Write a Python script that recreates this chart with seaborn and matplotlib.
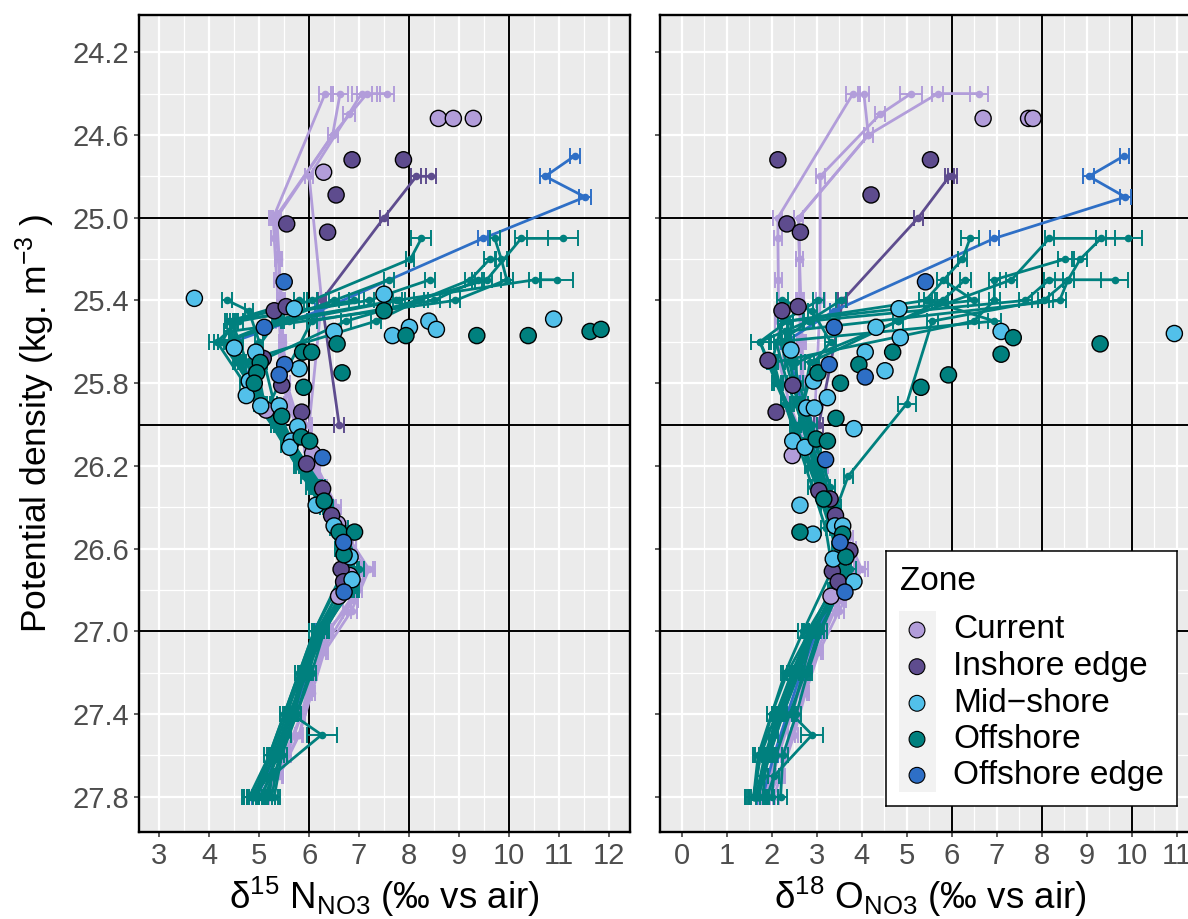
import matplotlib
matplotlib.use("Agg")
import matplotlib.pyplot as plt
from matplotlib.ticker import FixedLocator, FormatStrFormatter
from matplotlib.patches import Rectangle
import pandas as pd
import seaborn as sns

ZONES = ["Current", "Inshore edge", "Mid\u2212shore", "Offshore", "Offshore edge"]
ZONE_COLORS = ["#B29DDA", "#5E4C8E", "#52C0EA", "#00807E", "#2E6FC6"]

# ---------------- nitrate isotope profiles (one inner list per cast) ----------------
current_sigma = [
    [24.40, 25.00, 25.10, 25.30, 25.50, 25.70, 25.90, 26.10, 26.30, 26.50, 26.70, 26.90, 27.10, 27.30, 27.50, 27.70, 27.80],
    [24.40, 24.60, 25.00, 25.20, 25.40, 25.60, 25.80, 26.00, 26.20, 26.40, 26.60, 26.70, 26.85, 27.00, 27.20, 27.40, 27.60, 27.80],
    [24.40, 24.50, 24.80, 25.40, 26.00, 26.20, 26.40, 26.60, 26.80, 27.00, 27.20, 27.40, 27.60, 27.80],
    [24.40, 24.40, 24.60, 25.00, 25.20, 25.40, 25.60, 25.80, 26.00, 26.20, 26.40, 26.55, 26.70, 26.90, 27.10, 27.30, 27.50, 27.70, 27.80],
]
current_d15n = [
    [6.32, 5.28, 5.30, 5.35, 5.40, 5.45, 5.55, 5.95, 6.30, 6.65, 7.00, 6.75, 6.25, 6.00, 5.80, 5.40, 5.05],
    [6.62, 6.47, 5.32, 5.38, 5.45, 5.48, 5.55, 5.80, 6.10, 6.45, 6.85, 7.15, 6.90, 6.35, 6.05, 5.85, 5.55, 5.10],
    [7.05, 6.79, 6.00, 6.25, 6.00, 6.15, 6.55, 6.85, 6.95, 6.40, 6.10, 5.85, 5.50, 5.15],
    [7.56, 7.16, 6.47, 5.35, 5.40, 5.42, 5.45, 5.50, 5.75, 6.05, 6.45, 6.80, 7.20, 6.85, 6.30, 6.05, 5.80, 5.35, 5.20],
]
current_d15n_sd = [
    [0.12, 0.08, 0.06, 0.06, 0.06, 0.06, 0.06, 0.06, 0.06, 0.08, 0.10, 0.08, 0.08, 0.06, 0.06, 0.08, 0.10],
    [0.15, 0.10, 0.08, 0.06, 0.06, 0.06, 0.06, 0.06, 0.06, 0.08, 0.08, 0.12, 0.08, 0.08, 0.06, 0.06, 0.08, 0.10],
    [0.20, 0.12, 0.08, 0.08, 0.06, 0.06, 0.08, 0.08, 0.10, 0.08, 0.06, 0.06, 0.08, 0.10],
    [0.15, 0.20, 0.10, 0.08, 0.06, 0.06, 0.06, 0.06, 0.06, 0.06, 0.08, 0.08, 0.12, 0.10, 0.08, 0.06, 0.08, 0.10, 0.12],
]
current_d18o = [
    [3.81, 2.14, 2.14, 2.15, 2.15, 2.17, 2.40, 2.75, 3.10, 3.45, 3.75, 3.40, 3.00, 2.70, 2.45, 2.15, 1.95],
    [4.05, 4.15, 2.60, 2.62, 2.62, 2.64, 2.66, 2.75, 3.05, 3.35, 3.70, 3.95, 3.55, 3.10, 2.75, 2.45, 2.15, 1.90],
    [5.10, 4.41, 3.08, 3.08, 2.95, 3.15, 3.45, 3.75, 3.55, 3.05, 2.70, 2.40, 2.10, 1.85],
    [6.60, 5.69, 4.15, 2.60, 2.62, 2.65, 2.68, 2.70, 2.90, 3.15, 3.40, 3.70, 4.00, 3.50, 3.05, 2.75, 2.50, 2.20, 2.05],
]
current_d18o_sd = [
    [0.15, 0.10, 0.08, 0.08, 0.08, 0.08, 0.08, 0.08, 0.10, 0.10, 0.12, 0.10, 0.10, 0.08, 0.08, 0.10, 0.12],
    [0.12, 0.10, 0.10, 0.08, 0.08, 0.08, 0.08, 0.08, 0.10, 0.10, 0.10, 0.12, 0.10, 0.10, 0.08, 0.08, 0.10, 0.12],
    [0.25, 0.12, 0.10, 0.10, 0.08, 0.10, 0.10, 0.12, 0.10, 0.10, 0.08, 0.08, 0.10, 0.12],
    [0.20, 0.12, 0.10, 0.10, 0.08, 0.08, 0.08, 0.08, 0.08, 0.10, 0.10, 0.10, 0.15, 0.10, 0.10, 0.08, 0.08, 0.10, 0.12],
]

inshore_sigma = [[24.80, 24.80, 25.00, 25.40, 26.00]]
inshore_d15n = [[8.45, 8.15, 7.50, 6.25, 6.60]]
inshore_d15n_sd = [[0.10, 0.10, 0.08, 0.08, 0.10]]
inshore_d18o = [[6.01, 5.95, 5.26, 3.58, 3.05]]
inshore_d18o_sd = [[0.10, 0.10, 0.10, 0.10, 0.10]]

edge_sigma = [[24.70, 24.80, 24.90, 25.10, 25.45, 25.60, 25.80, 26.00, 26.20, 26.40, 26.60, 26.80, 27.00, 27.20, 27.40, 27.60, 27.80]]
edge_d15n = [[11.33, 10.73, 11.53, 9.49, 6.20, 4.48, 4.85, 5.45, 5.95, 6.35, 6.65, 6.75, 6.20, 5.95, 5.70, 5.35, 4.95]]
edge_d15n_sd = [[0.10, 0.10, 0.12, 0.10, 0.08, 0.08, 0.06, 0.06, 0.06, 0.08, 0.08, 0.08, 0.08, 0.08, 0.08, 0.08, 0.10]]
edge_d18o = [[9.84, 9.05, 9.86, 6.95, 3.39, 2.31, 2.55, 2.80, 3.05, 3.30, 3.55, 3.50, 3.00, 2.65, 2.35, 2.05, 1.80]]
edge_d18o_sd = [[0.10, 0.12, 0.12, 0.10, 0.10, 0.10, 0.08, 0.08, 0.08, 0.08, 0.08, 0.08, 0.10, 0.10, 0.10, 0.10, 0.12]]

offshore_sigma = [
    [25.10, 25.10, 25.30, 25.50, 25.70, 25.90, 26.10, 26.30, 26.50, 26.70, 27.00, 27.20, 27.40, 27.60, 27.80],
    [25.10, 25.20, 25.40, 25.50, 25.60, 25.80, 26.00, 26.20, 26.40, 26.60, 26.80, 27.00, 27.20, 27.40, 27.50, 27.70, 27.80],
    [25.10, 25.20, 25.30, 25.40, 25.55, 25.70, 25.90, 26.10, 26.30, 26.50, 26.70, 27.00, 27.20, 27.40, 27.60, 27.80],
    [25.30, 25.30, 25.40, 25.50, 25.60, 25.80, 26.00, 26.20, 26.40, 26.60, 26.80, 27.00, 27.20, 27.40, 27.60, 27.80],
    [25.30, 25.40, 25.50, 25.90, 26.25, 26.40, 26.60, 26.80, 27.00, 27.20, 27.40, 27.50, 27.70, 27.80],
    [25.20, 25.30, 25.40, 25.50, 25.70, 25.90, 26.10, 26.30, 26.50, 26.70, 27.00, 27.20, 27.40, 27.60, 27.80],
    [25.30, 25.40, 25.50, 25.60, 25.80, 26.00, 26.20, 26.40, 26.60, 26.80, 27.00, 27.20, 27.40, 27.60, 27.80],
    [25.40, 25.45, 25.60, 25.70, 25.90, 26.10, 26.30, 26.50, 26.70, 27.00, 27.20, 27.40, 27.60, 27.80],
    [25.30, 25.40, 25.50, 25.70, 25.90, 26.10, 26.30, 26.50, 26.70, 27.00, 27.20, 27.40, 27.60, 27.80],
    [25.40, 25.50, 25.60, 25.80, 26.00, 26.20, 26.40, 26.60, 26.80, 27.00, 27.20, 27.40, 27.60, 27.80],
    [25.40, 25.50, 25.70, 25.90, 26.10, 26.30, 26.50, 26.70, 27.00, 27.20, 27.40, 27.60, 27.80],
    [25.40, 25.50, 25.60, 25.80, 26.00, 26.20, 26.40, 26.60, 26.80, 27.00, 27.20, 27.40, 27.60, 27.80],
]
offshore_d15n = [
    [11.08, 10.25, 9.56, 6.74, 4.95, 5.10, 5.55, 6.05, 6.60, 6.80, 6.20, 5.90, 5.65, 5.35, 5.05],
    [8.25, 8.03, 6.05, 4.50, 4.25, 4.80, 5.30, 5.75, 6.30, 6.60, 6.90, 6.15, 5.90, 5.70, 5.55, 5.20, 4.85],
    [9.72, 9.85, 9.96, 8.93, 4.40, 4.65, 5.00, 5.60, 6.15, 6.60, 6.90, 6.25, 5.95, 5.60, 5.30, 5.20],
    [10.96, 10.53, 7.74, 5.35, 4.30, 4.85, 5.40, 5.90, 6.40, 6.70, 6.80, 6.30, 5.95, 5.60, 5.30, 4.90],
    [9.39, 8.50, 6.05, 5.20, 5.90, 6.30, 6.65, 6.85, 6.10, 5.85, 5.65, 6.25, 5.25, 5.00],
    [9.62, 9.23, 8.20, 7.34, 4.60, 4.95, 5.55, 6.10, 6.50, 6.75, 6.10, 5.80, 5.50, 5.20, 4.80],
    [8.42, 7.20, 4.45, 4.60, 4.90, 5.40, 5.85, 6.35, 6.65, 6.75, 6.20, 6.00, 5.75, 5.45, 5.10],
    [4.36, 4.79, 5.00, 5.10, 5.30, 5.70, 6.20, 6.55, 6.85, 6.15, 5.85, 5.55, 5.25, 4.85],
    [7.60, 6.50, 5.35, 4.75, 5.15, 5.70, 6.25, 6.70, 7.00, 6.30, 6.05, 5.75, 5.40, 5.25],
    [6.90, 4.60, 4.15, 4.70, 5.30, 5.80, 6.30, 6.60, 6.70, 6.20, 5.90, 5.70, 5.45, 5.30],
    [5.80, 4.40, 4.55, 5.00, 5.50, 6.00, 6.50, 6.70, 6.10, 5.80, 5.50, 5.20, 4.90],
    [7.80, 5.60, 4.30, 4.85, 5.35, 5.85, 6.40, 6.70, 6.85, 6.25, 5.95, 5.65, 5.30, 4.95],
]
offshore_d15n_sd = [
    [0.30, 0.12, 0.10, 0.10, 0.08, 0.06, 0.06, 0.06, 0.08, 0.08, 0.10, 0.08, 0.08, 0.08, 0.12],
    [0.20, 0.08, 0.10, 0.08, 0.15, 0.08, 0.06, 0.06, 0.08, 0.08, 0.10, 0.10, 0.08, 0.08, 0.08, 0.10, 0.15],
    [0.10, 0.12, 0.12, 0.10, 0.10, 0.08, 0.06, 0.06, 0.08, 0.08, 0.10, 0.10, 0.08, 0.08, 0.08, 0.12],
    [0.33, 0.12, 0.12, 0.10, 0.12, 0.08, 0.06, 0.06, 0.08, 0.08, 0.10, 0.10, 0.08, 0.08, 0.10, 0.15],
    [0.12, 0.12, 0.10, 0.08, 0.06, 0.08, 0.08, 0.10, 0.10, 0.08, 0.08, 0.30, 0.10, 0.12],
    [0.12, 0.10, 0.10, 0.10, 0.08, 0.06, 0.06, 0.06, 0.08, 0.08, 0.10, 0.08, 0.08, 0.10, 0.15],
    [0.10, 0.10, 0.10, 0.08, 0.06, 0.06, 0.06, 0.08, 0.08, 0.10, 0.10, 0.08, 0.08, 0.10, 0.15],
    [0.10, 0.08, 0.08, 0.06, 0.06, 0.06, 0.06, 0.08, 0.10, 0.10, 0.08, 0.08, 0.10, 0.15],
    [0.10, 0.10, 0.08, 0.08, 0.06, 0.06, 0.06, 0.08, 0.10, 0.10, 0.08, 0.08, 0.10, 0.12],
    [0.10, 0.08, 0.15, 0.08, 0.06, 0.06, 0.08, 0.08, 0.10, 0.10, 0.08, 0.08, 0.10, 0.12],
    [0.10, 0.08, 0.08, 0.06, 0.06, 0.06, 0.08, 0.08, 0.10, 0.08, 0.08, 0.10, 0.15],
    [0.12, 0.10, 0.12, 0.08, 0.06, 0.06, 0.08, 0.08, 0.10, 0.10, 0.08, 0.08, 0.10, 0.15],
]
offshore_d18o = [
    [9.93, 8.17, 7.33, 4.81, 2.55, 2.55, 2.80, 3.10, 3.40, 3.60, 2.95, 2.55, 2.20, 1.90, 1.70],
    [6.41, 6.24, 5.42, 2.36, 1.74, 2.15, 2.55, 2.85, 3.20, 3.50, 3.60, 2.85, 2.45, 2.15, 2.05, 1.80, 1.60],
    [9.32, 8.86, 8.59, 8.40, 2.30, 2.40, 2.60, 2.90, 3.20, 3.40, 3.65, 2.90, 2.45, 2.10, 1.90, 1.80],
    [9.63, 8.17, 7.64, 2.82, 2.20, 2.45, 2.75, 3.00, 3.35, 3.60, 3.40, 2.95, 2.60, 2.25, 1.95, 1.70],
    [8.59, 8.05, 5.57, 5.00, 3.70, 3.45, 3.55, 3.45, 2.90, 2.70, 2.45, 2.90, 2.05, 1.90],
    [8.52, 6.95, 6.95, 6.49, 2.05, 2.30, 2.65, 3.00, 3.30, 3.55, 2.85, 2.35, 2.00, 1.75, 1.60],
    [5.80, 6.49, 2.36, 2.40, 2.60, 2.90, 3.10, 3.35, 3.60, 3.35, 2.80, 2.50, 2.15, 1.85, 1.65],
    [2.24, 2.90, 3.31, 2.95, 2.70, 2.90, 3.20, 3.45, 3.65, 2.95, 2.50, 2.10, 1.75, 1.60],
    [6.30, 5.80, 4.81, 2.85, 2.70, 3.00, 3.30, 3.50, 3.75, 3.05, 2.75, 2.40, 2.10, 2.00],
    [3.54, 2.82, 1.74, 2.10, 2.50, 2.90, 3.20, 3.45, 3.50, 3.10, 2.80, 2.55, 2.25, 2.20],
    [3.04, 2.25, 2.00, 2.30, 2.60, 2.90, 3.20, 3.35, 2.70, 2.30, 2.00, 1.70, 1.60],
    [5.50, 6.95, 2.10, 2.35, 2.70, 3.00, 3.30, 3.60, 3.40, 2.95, 2.60, 2.25, 1.95, 1.70],
]
offshore_d18o_sd = [
    [0.30, 0.10, 0.12, 0.12, 0.10, 0.10, 0.10, 0.10, 0.10, 0.12, 0.12, 0.10, 0.10, 0.12, 0.15],
    [0.20, 0.10, 0.15, 0.12, 0.20, 0.10, 0.10, 0.10, 0.10, 0.10, 0.12, 0.15, 0.10, 0.10, 0.10, 0.12, 0.20],
    [0.12, 0.15, 0.12, 0.15, 0.12, 0.10, 0.10, 0.10, 0.10, 0.10, 0.12, 0.12, 0.10, 0.10, 0.12, 0.15],
    [0.30, 0.12, 0.15, 0.12, 0.15, 0.10, 0.10, 0.10, 0.10, 0.10, 0.10, 0.12, 0.10, 0.10, 0.12, 0.20],
    [0.12, 0.12, 0.12, 0.20, 0.10, 0.10, 0.10, 0.10, 0.12, 0.10, 0.10, 0.25, 0.12, 0.15],
    [0.15, 0.12, 0.12, 0.12, 0.10, 0.10, 0.10, 0.10, 0.10, 0.10, 0.12, 0.10, 0.10, 0.12, 0.20],
    [0.12, 0.12, 0.12, 0.10, 0.10, 0.10, 0.10, 0.10, 0.10, 0.10, 0.12, 0.10, 0.10, 0.12, 0.20],
    [0.12, 0.10, 0.12, 0.10, 0.10, 0.10, 0.10, 0.10, 0.12, 0.12, 0.10, 0.10, 0.12, 0.20],
    [0.12, 0.12, 0.12, 0.10, 0.10, 0.10, 0.10, 0.10, 0.12, 0.12, 0.10, 0.10, 0.12, 0.15],
    [0.12, 0.10, 0.20, 0.10, 0.10, 0.10, 0.10, 0.10, 0.10, 0.12, 0.10, 0.10, 0.12, 0.15],
    [0.12, 0.10, 0.10, 0.10, 0.10, 0.10, 0.10, 0.10, 0.12, 0.10, 0.10, 0.12, 0.20],
    [0.12, 0.15, 0.12, 0.10, 0.10, 0.10, 0.10, 0.10, 0.10, 0.12, 0.10, 0.10, 0.12, 0.20],
]

# ---------------- discrete samples (large circles) ----------------
disc_n_zone = (["Current"] * 9 + ["Inshore edge"] * 15 + ["Mid\u2212shore"] * 23
               + ["Offshore"] * 21 + ["Offshore edge"] * 7)
disc_n_sigma = [24.52, 24.52, 24.52, 24.78, 25.93, 26.14, 26.48, 26.73, 26.83,
                24.72, 24.72, 24.89, 25.03, 25.07, 25.45, 25.43, 25.68, 25.81, 25.94, 26.19, 26.31, 26.44, 26.70, 26.76,
                25.39, 25.37, 25.44, 25.55, 25.53, 25.57, 25.50, 25.54, 25.49, 25.63, 25.65, 25.79, 25.73, 25.86,
                25.91, 25.91, 26.01, 26.08, 26.11, 26.39, 26.49, 26.64, 26.75,
                25.45, 25.61, 25.57, 25.57, 25.57, 25.55, 25.54, 25.70, 25.75, 25.80, 25.65, 25.65, 25.82, 25.75,
                25.96, 26.06, 26.08, 26.37, 26.52, 26.52, 26.63,
                25.31, 25.53, 25.71, 25.76, 26.16, 26.57, 26.81]
disc_n_d15n = [8.59, 8.89, 9.29, 6.29, 5.14, 6.07, 6.57, 6.81, 6.59,
               6.86, 7.89, 6.54, 5.55, 6.37, 5.30, 5.54, 5.08, 5.45, 5.85, 5.95, 6.27, 6.45, 6.64, 6.69,
               3.70, 7.50, 5.70, 6.50, 8.01, 7.67, 8.40, 8.55, 10.90, 4.50, 4.93, 4.80, 5.80, 4.74,
               5.03, 5.40, 5.77, 5.65, 5.61, 6.14, 6.50, 6.82, 6.86,
               7.50, 6.56, 7.94, 9.36, 10.39, 11.63, 11.85, 5.02, 4.95, 4.90, 5.87, 6.05, 5.89, 6.66,
               5.45, 5.84, 6.01, 6.30, 6.60, 6.91, 6.70,
               5.50, 5.10, 5.51, 5.40, 6.27, 6.69, 6.70]

disc_o_zone = (["Current"] * 5 + ["Inshore edge"] * 16 + ["Mid\u2212shore"] * 21
               + ["Offshore"] * 16 + ["Offshore edge"] * 7)
disc_o_sigma = [24.52, 24.52, 24.52, 26.15, 26.83,
                24.72, 24.72, 24.89, 25.03, 25.07, 25.45, 25.43, 25.69, 25.81, 25.94, 26.32, 26.36, 26.44, 26.61,
                26.71, 26.76,
                25.44, 25.53, 25.58, 25.55, 25.56, 25.64, 25.65, 25.74, 25.79, 25.87, 25.92, 25.92, 26.02, 26.08,
                26.11, 26.39, 26.49, 26.49, 26.53, 26.65, 26.76,
                25.58, 25.66, 25.61, 25.65, 25.71, 25.75, 25.80, 25.82, 25.76, 25.97, 26.07, 26.08, 26.36, 26.52,
                26.53, 26.64,
                25.31, 25.53, 25.77, 25.71, 26.17, 26.57, 26.81]
disc_o_d18o = [6.70, 7.71, 7.81, 2.46, 3.32,
               2.14, 5.53, 4.21, 2.34, 2.64, 2.23, 2.59, 1.92, 2.47, 2.10, 3.05, 3.30, 3.42, 3.74, 3.35, 3.48,
               4.83, 4.32, 4.86, 7.10, 10.95, 2.43, 4.08, 4.52, 2.93, 3.24, 2.78, 2.95, 3.83, 2.47, 2.74, 2.63,
               3.41, 3.58, 2.92, 3.37, 3.83,
               7.37, 7.10, 9.30, 4.69, 3.94, 3.03, 3.53, 5.32, 5.93, 3.43, 2.99, 3.24, 3.16, 2.63, 3.58, 3.65,
               5.42, 3.39, 4.08, 3.28, 3.20, 3.52, 3.63]

# ---------------- axis settings ----------------
Y_TICKS = [24.2, 24.6, 25.0, 25.4, 25.8, 26.2, 26.6, 27.0, 27.4, 27.8]
Y_MINOR = [24.4, 24.8, 25.2, 25.6, 26.0, 26.4, 26.8, 27.2, 27.6]
N_TICKS = [3, 4, 5, 6, 7, 8, 9, 10, 11, 12]
O_TICKS = [0, 1, 2, 3, 4, 5, 6, 7, 8, 9, 10, 11]
REF_X = [6, 8, 10]
REF_Y = [25.0, 26.0, 27.0]


def casts_frame(zone, sigma, d15n, d15n_sd, d18o, d18o_sd):
    parts = []
    for k, cols in enumerate(zip(sigma, d15n, d15n_sd, d18o, d18o_sd)):
        s, n, nsd, o, osd = cols
        parts.append(pd.DataFrame({"zone": zone, "cast": f"{zone} {k + 1}", "sigma": s,
                                   "d15n": n, "d15n_sd": nsd, "d18o": o, "d18o_sd": osd}))
    return pd.concat(parts, ignore_index=True)


profiles = {
    "Current": casts_frame("Current", current_sigma, current_d15n, current_d15n_sd,
                           current_d18o, current_d18o_sd),
    "Inshore edge": casts_frame("Inshore edge", inshore_sigma, inshore_d15n, inshore_d15n_sd,
                                inshore_d18o, inshore_d18o_sd),
    "Offshore edge": casts_frame("Offshore edge", edge_sigma, edge_d15n, edge_d15n_sd,
                                 edge_d18o, edge_d18o_sd),
    "Offshore": casts_frame("Offshore", offshore_sigma, offshore_d15n, offshore_d15n_sd,
                            offshore_d18o, offshore_d18o_sd),
}
disc_n = pd.DataFrame({"zone": disc_n_zone, "sigma": disc_n_sigma, "value": disc_n_d15n})
disc_o = pd.DataFrame({"zone": disc_o_zone, "sigma": disc_o_sigma, "value": disc_o_d18o})

palette = dict(zip(ZONES, ZONE_COLORS))

sns.set_theme(style="darkgrid")
plt.rcParams["font.family"] = ["Liberation Sans", "DejaVu Sans"]
plt.rcParams["mathtext.default"] = "regular"

W, H = 1188, 919
fig = plt.figure(figsize=(W / 100, H / 100), dpi=100)
fig.patch.set_facecolor("white")
ax_n = fig.add_axes([139 / W, 1 - 832 / H, (629.5 - 139) / W, 817 / H])
ax_o = fig.add_axes([660 / W, 1 - 832 / H, 540 / W, 817 / H])


def draw_panel(ax, var, disc, xlim, xticks, xlabel):
    ax.set_facecolor("#EBEBEB")
    for i, zone in enumerate(["Current", "Inshore edge", "Offshore edge", "Offshore"]):
        sub = profiles[zone]
        col = palette[zone]
        z = 3 + i * 0.2
        sns.lineplot(data=sub, x=var, y="sigma", units="cast", estimator=None, sort=False,
                     color=col, linewidth=2.0, ax=ax, legend=False, zorder=z)
        ax.errorbar(sub[var], sub["sigma"], xerr=sub[var + "_sd"], fmt="none", ecolor=col,
                    elinewidth=1.4, capsize=6, capthick=1.4, zorder=z)
        sns.scatterplot(data=sub, x=var, y="sigma", color=col, s=30, linewidth=0,
                        ax=ax, legend=False, zorder=z + 0.05)
    sns.scatterplot(data=disc, x="value", y="sigma", hue="zone", hue_order=ZONES, palette=palette,
                    s=135, edgecolor="black", linewidth=1.0, ax=ax, legend=False, zorder=10)

    for xv in REF_X:
        ax.axvline(xv, color="black", linewidth=1.4, zorder=1.5)
    for yv in REF_Y:
        ax.axhline(yv, color="black", linewidth=1.4, zorder=1.5)

    ax.set_xlim(*xlim)
    ax.set_ylim(27.97, 24.02)
    ax.xaxis.set_major_locator(FixedLocator(xticks))
    ax.xaxis.set_minor_locator(FixedLocator([t + 0.5 for t in xticks]))
    ax.yaxis.set_major_locator(FixedLocator(Y_TICKS))
    ax.yaxis.set_minor_locator(FixedLocator(Y_MINOR))
    ax.yaxis.set_major_formatter(FormatStrFormatter("%.1f"))
    ax.set_axisbelow(True)
    ax.grid(which="major", color="white", linewidth=1.6)
    ax.grid(which="minor", color="white", linewidth=0.9)
    ax.tick_params(which="major", bottom=True, left=True, direction="out", length=3.8, width=1.1,
                   color="#333333", labelcolor="#4D4D4D", labelsize=21, pad=3.5)
    ax.tick_params(which="minor", length=0)
    for sp in ax.spines.values():
        sp.set_visible(True)
        sp.set_color("black")
        sp.set_linewidth(1.7)
    ax.set_xlabel(xlabel, fontsize=26.5, color="black")
    ax.xaxis.set_label_coords(0.5, -0.052)
    ax.xaxis.label.set_verticalalignment("top")
    ax.set_ylabel("")


draw_panel(ax_n, "d15n", disc_n, (2.59, 12.42), N_TICKS, "\u03b4$^{15}$ N$_{NO3}$ (\u2030 vs air)")
draw_panel(ax_o, "d18o", disc_o, (-0.48, 11.52), O_TICKS, "\u03b4$^{18}$ O$_{NO3}$ (\u2030 vs air)")

ax_n.set_ylabel("Potential density (kg. m$^{-3}$ )", fontsize=25.5, color="black")
ax_n.yaxis.set_label_coords(-0.167, 0.5)
ax_o.tick_params(axis="y", labelleft=False)

# legend panel
lx0, ly0, lx1, ly1 = 886, 551, 1177, 806
leg = fig.add_axes([lx0 / W, 1 - ly1 / H, (lx1 - lx0) / W, (ly1 - ly0) / H])
leg.set_xlim(0, lx1 - lx0)
leg.set_ylim(ly1 - ly0, 0)
leg.set_facecolor("white")
leg.grid(False)
leg.set_xticks([])
leg.set_yticks([])
for sp in leg.spines.values():
    sp.set_visible(True)
    sp.set_color("black")
    sp.set_linewidth(1.1)
leg.add_patch(Rectangle((13, 60), 37, 181, facecolor="#F2F2F2", edgecolor="none"))
key_y = [79, 115.7, 152.3, 188.3, 224.3]
leg.scatter([31] * len(ZONES), key_y, c=ZONE_COLORS, s=130, edgecolors="black",
            linewidths=0.8, zorder=3)
for yk, lab in zip(key_y, ZONES):
    leg.text(67, yk, lab, va="center", ha="left", fontsize=24, color="black")
leg.text(14, 39, "Zone", va="baseline", ha="left", fontsize=24, color="black")

fig.savefig("out.png", dpi=100)
